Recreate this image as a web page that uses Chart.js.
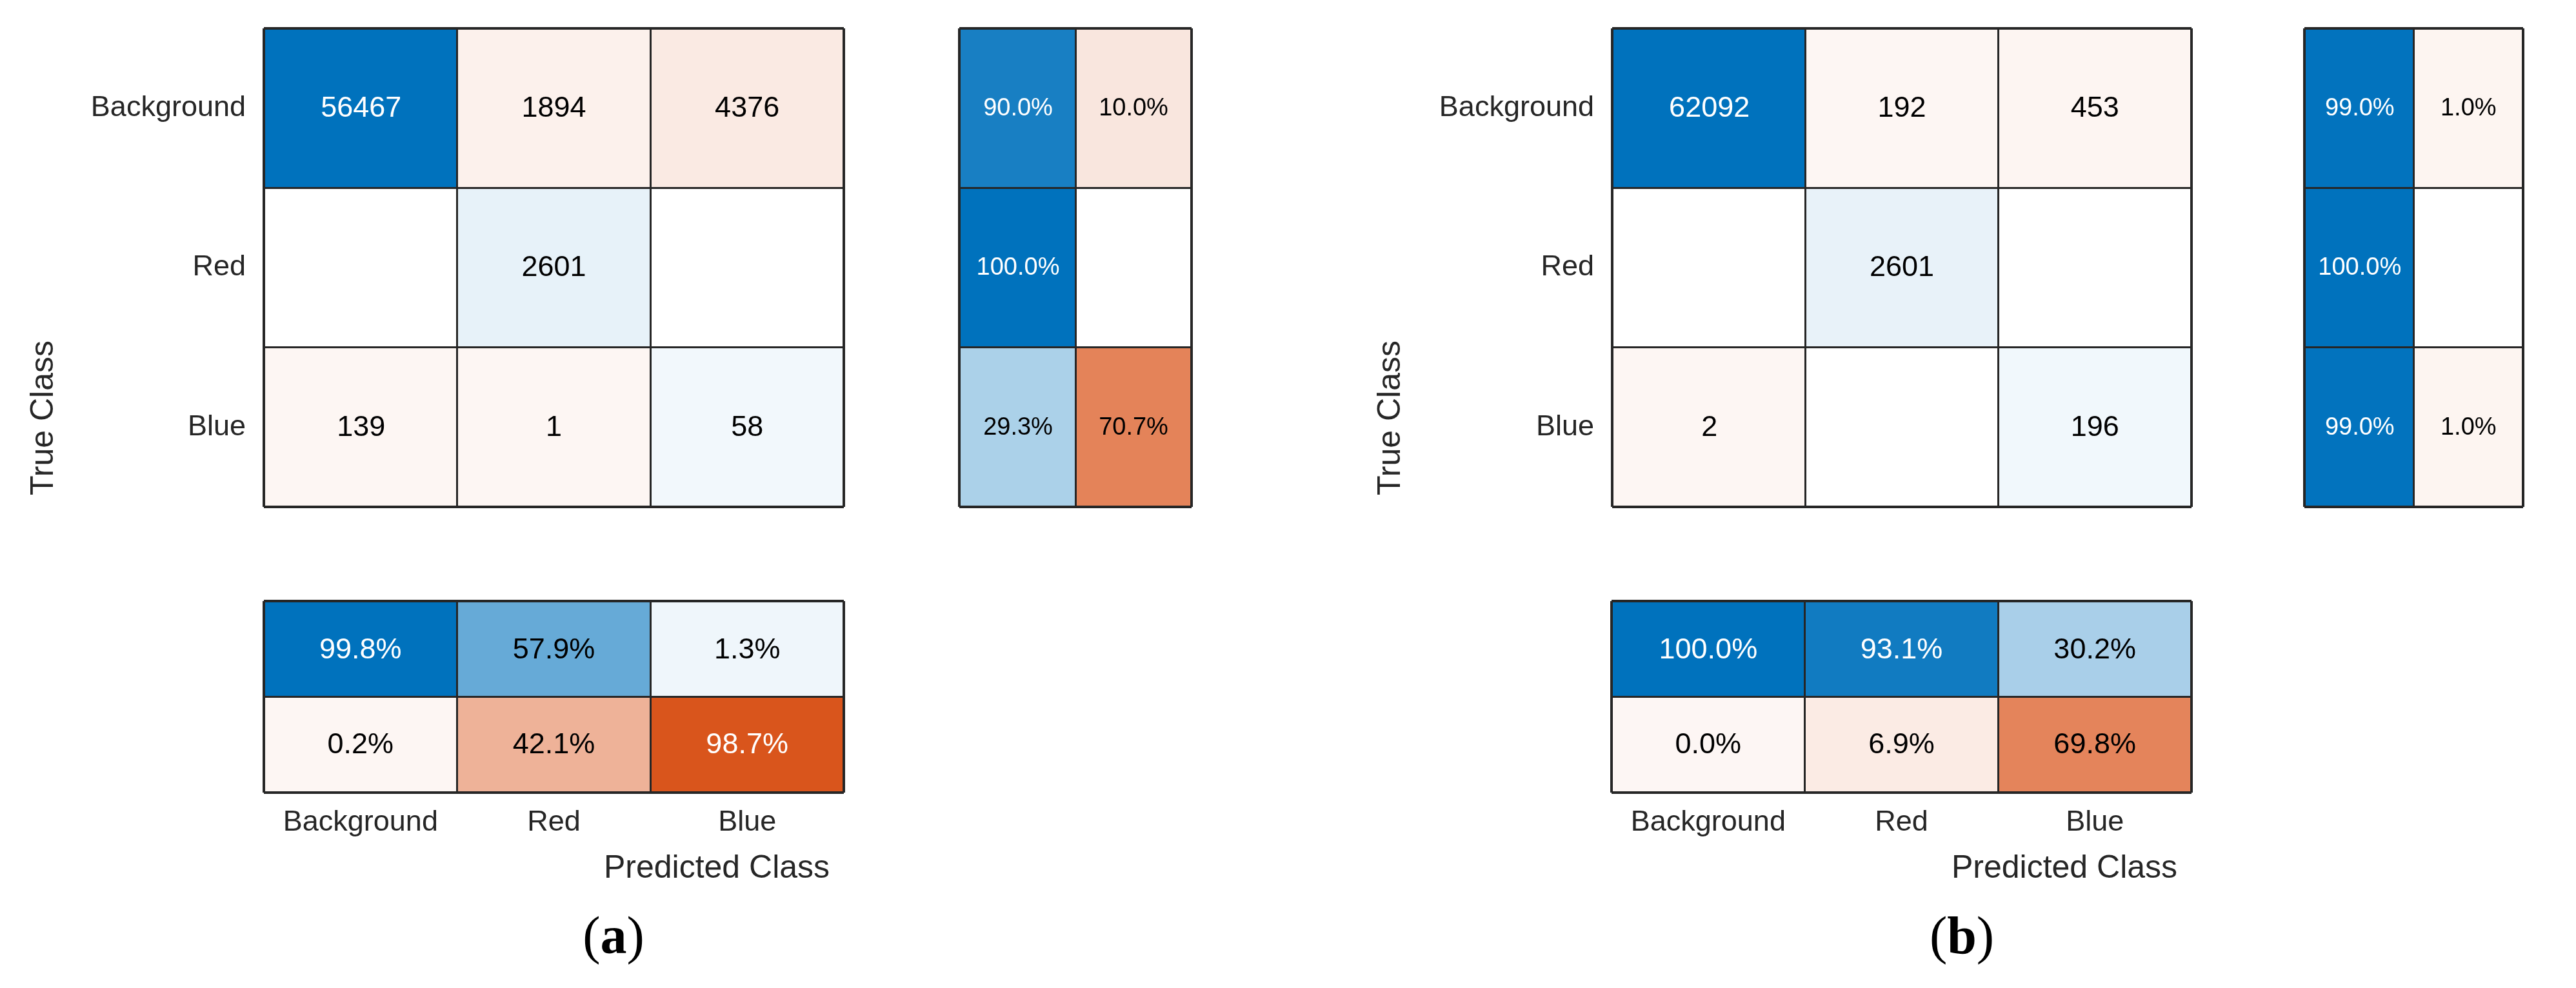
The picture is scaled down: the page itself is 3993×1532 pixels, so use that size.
<!DOCTYPE html>
<html>
<head>
<meta charset="utf-8">
<script src="https://cdn.jsdelivr.net/npm/chart.js@4.4.1/dist/chart.umd.min.js"></script>
<style>
  html, body { margin: 0; padding: 0; background: #fff; }
  body { width: 3993px; height: 1532px; position: relative; overflow: hidden; }
  canvas { position: absolute; }
</style>
</head>
<body>
<canvas id="mainA"></canvas>
<canvas id="rowA"></canvas>
<canvas id="colA"></canvas>
<canvas id="mainB"></canvas>
<canvas id="rowB"></canvas>
<canvas id="colB"></canvas>
<script>
const classes = ['Background', 'Red', 'Blue'];

// (a) counts, null = empty cell
const countsA = [[56467, 1894, 4376], [null, 2601, null], [139, 1, 58]];
const rowPctA = [[90.0, 10.0], [100.0, null], [29.3, 70.7]];
const colPctA = [[99.8, 57.9, 1.3], [0.2, 42.1, 98.7]];

// (b)
const countsB = [[62092, 192, 453], [null, 2601, null], [2, null, 196]];
const rowPctB = [[99.0, 1.0], [100.0, null], [99.0, 1.0]];
const colPctB = [[100.0, 93.1, 30.2], [0.0, 6.9, 69.8]];

const BLUE = [0, 114, 189];
const ORANGE = [217, 83, 25];
const LINE = '#262626';
const SANS = '"Liberation Sans", Arial, Helvetica, sans-serif';
const SERIF = '"Liberation Serif", "Times New Roman", serif';

Chart.defaults.font.family = SANS;

function tint(base, v) {
    if (v == null) return '#ffffff';
    const t = 0.05 + 0.95 * v;
    const c = base.map(b => Math.round(255 + (b - 255) * t));
    return 'rgb(' + c.join(',') + ')';
}

// numbers inside the cells, taken from dataset.texts / dataset.inks
const cellText = {
    id: 'cellText',
    afterDatasetsDraw(chart) {
        const ctx = chart.ctx;
        ctx.save();
        ctx.textAlign = 'center';
        ctx.textBaseline = 'middle';
        chart.data.datasets.forEach((ds, d) => {
            ctx.font = ds.textSize + 'px ' + SANS;
            chart.getDatasetMeta(d).data.forEach((bar, i) => {
                if (!ds.texts[i]) return;
                const p = bar.getCenterPoint();
                ctx.fillStyle = ds.inks[i];
                ctx.fillText(ds.texts[i], p.x, p.y + 1);
            });
        });
        ctx.restore();
    }
};

// axis titles and captions, page coordinates
const notes = {};
const notePlugin = {
    id: 'notes',
    afterDraw(chart) {
        const list = notes[chart.canvas.id] || [];
        const ctx = chart.ctx;
        const ox = parseFloat(chart.canvas.style.left);
        const oy = parseFloat(chart.canvas.style.top);
        list.forEach(n => {
            ctx.save();
            ctx.translate(n.x - ox, n.y - oy);
            if (n.rot) ctx.rotate(n.rot);
            ctx.fillStyle = n.color || LINE;
            ctx.textBaseline = 'alphabetic';
            ctx.textAlign = 'left';
            const widths = n.parts.map(p => { ctx.font = p.font; return ctx.measureText(p.text).width; });
            let x = -widths.reduce((a, b) => a + b, 0) / 2;
            n.parts.forEach((p, k) => { ctx.font = p.font; ctx.fillText(p.text, x, 0); x += widths[k]; });
            ctx.restore();
        });
    }
};

// outer frame a little heavier than the inner cell lines
function lineGrid(offset, max) {
    return {
        color: LINE, drawTicks: false, tickLength: 0, offset: offset, z: 1,
        lineWidth: c => {
            if (c.type !== 'tick') return 4;
            const v = c.tick.value;
            return (v === 0 || (!offset && v === max)) ? 4 : 3;
        }
    };
}

function fixSize(w, h) {
    return s => {
        if (w != null) s.width = w;
        if (h != null) s.height = h;
        s.paddingTop = 0; s.paddingBottom = 0; s.paddingLeft = 0; s.paddingRight = 0;
    };
}

// box: [left, top, width, height], area: [l, t, r, b] (page px)
function draw(id, box, area, datasets, o) {
    const cv = document.getElementById(id);
    cv.width = box[2];
    cv.height = box[3];
    cv.style.left = box[0] + 'px';
    cv.style.top = box[1] + 'px';
    const sideW = o.sideW || 0;
    const footH = o.footH || 0;
    const padding = {
        left: area[0] - box[0] - sideW,
        top: area[1] - box[1],
        right: box[0] + box[2] - area[2],
        bottom: box[1] + box[3] - area[3] - footH
    };
    const labelFont = { family: SANS, size: 45 };
    let scales;
    if (o.horizontal) {
        scales = {
            x: { type: 'linear', min: 0, max: o.nValue, z: 1,
                 ticks: { display: false, stepSize: 1 }, grid: lineGrid(false, o.nValue),
                 border: { display: false }, afterFit: fixSize(null, 0) },
            y: { type: 'category', offset: true, z: 1,
                 ticks: { display: !!o.labels, font: labelFont, color: LINE, padding: 28 },
                 grid: lineGrid(true), border: { display: false }, afterFit: fixSize(sideW, null) }
        };
    } else {
        scales = {
            x: { type: 'category', offset: true, z: 1,
                 ticks: { display: !!o.labels, font: labelFont, color: LINE, padding: 20, maxRotation: 0, autoSkip: false },
                 grid: lineGrid(true), border: { display: false }, afterFit: fixSize(null, footH) },
            y: { type: 'linear', min: 0, max: o.nValue, reverse: true, z: 1,
                 ticks: { display: false, stepSize: 1 }, grid: lineGrid(false, o.nValue),
                 border: { display: false }, afterFit: fixSize(0, null) }
        };
    }
    return new Chart(cv, {
        type: 'bar',
        data: { labels: classes, datasets: datasets },
        options: {
            indexAxis: o.horizontal ? 'y' : 'x',
            responsive: false,
            animation: false,
            events: [],
            layout: { padding: padding },
            plugins: { legend: { display: false }, tooltip: { enabled: false } },
            scales: scales
        },
        plugins: [cellText, notePlugin]
    });
}

function cellSet(slot, values, colorOf, fmt, size) {
    return {
        data: values.map(() => [slot, slot + 1]),
        backgroundColor: values.map((v, k) => tint(colorOf(k), v.norm)),
        texts: values.map(v => v.raw == null ? '' : fmt(v.raw)),
        inks: values.map(v => v.norm != null && v.norm > 0.8 ? '#ffffff' : '#000000'),
        textSize: size,
        grouped: false,
        categoryPercentage: 1,
        barPercentage: 1,
        borderWidth: 0
    };
}

const pct = v => v.toFixed(1) + '%';

function panel(counts, rowPct, colPct, g) {
    const max = Math.max(...counts.flat().filter(v => v != null));
    // confusion matrix: one dataset per predicted column
    const mainSets = classes.map((_, j) => cellSet(j,
        counts.map(row => ({ raw: row[j], norm: row[j] == null ? null : row[j] / max })),
        i => (i === j ? BLUE : ORANGE), v => String(v), 45));
    draw(g.main.id, g.main.box, g.main.area, mainSets,
        { horizontal: true, nValue: 3, labels: true, sideW: g.main.area[0] - g.main.box[0] });

    // row summary: correct / incorrect per true class
    const rowSets = [0, 1].map(j => cellSet(j,
        rowPct.map(row => ({ raw: row[j], norm: row[j] == null ? null : row[j] / 100 })),
        () => (j === 0 ? BLUE : ORANGE), pct, 38));
    draw(g.row.id, g.row.box, g.row.area, rowSets, { horizontal: true, nValue: 2 });

    // column summary: precision / false discovery per predicted class
    const colSets = [0, 1].map(i => cellSet(i,
        colPct[i].map(v => ({ raw: v, norm: v == null ? null : v / 100 })),
        () => (i === 0 ? BLUE : ORANGE), pct, 45));
    draw(g.col.id, g.col.box, g.col.area, colSets, { horizontal: false, nValue: 2, labels: true, footH: 100 });
}

notes.mainA = [{ parts: [{ text: 'True Class', font: '50px ' + SANS }], x: 82, y: 648, rot: -Math.PI / 2 }];
notes.colA = [
    { parts: [{ text: 'Predicted Class', font: '50px ' + SANS }], x: 1111, y: 1361 },
    { parts: [{ text: '(', font: '82px ' + SERIF }, { text: 'a', font: 'bold 82px ' + SERIF }, { text: ')', font: '82px ' + SERIF }], x: 951, y: 1478, color: '#000000' }
];
notes.mainB = [{ parts: [{ text: 'True Class', font: '50px ' + SANS }], x: 2170, y: 648, rot: -Math.PI / 2 }];
notes.colB = [
    { parts: [{ text: 'Predicted Class', font: '50px ' + SANS }], x: 3200, y: 1361 },
    { parts: [{ text: '(', font: '82px ' + SERIF }, { text: 'b', font: 'bold 82px ' + SERIF }, { text: ')', font: '82px ' + SERIF }], x: 3041, y: 1478, color: '#000000' }
];

panel(countsA, rowPctA, colPctA, {
    main: { id: 'mainA', box: [0, 0, 1330, 850], area: [409, 44, 1308, 786] },
    row: { id: 'rowA', box: [1460, 0, 420, 850], area: [1487, 44, 1847, 786] },
    col: { id: 'colA', box: [300, 880, 1100, 652], area: [409, 932, 1308, 1229] }
});
panel(countsB, rowPctB, colPctB, {
    main: { id: 'mainB', box: [2050, 0, 1370, 850], area: [2499, 44, 3397, 786] },
    row: { id: 'rowB', box: [3540, 0, 400, 850], area: [3572, 44, 3911, 786] },
    col: { id: 'colB', box: [2390, 880, 1100, 652], area: [2498, 932, 3397, 1229] }
});
</script>
</body>
</html>
